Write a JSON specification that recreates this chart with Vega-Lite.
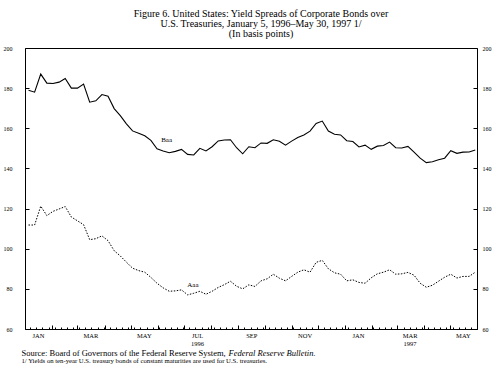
{
  "$schema": "https://vega.github.io/schema/vega-lite/v6.json",
  "width": 452,
  "height": 281,
  "autosize": "none",
  "padding": {"left": 25, "top": 48, "right": 23, "bottom": 37},
  "title": {
    "text": ["Figure 6. United States: Yield Spreads of Corporate Bonds over", "U.S. Treasuries, January 5, 1996–May 30, 1997 1/", "(In basis points)"],
    "font": "Liberation Serif",
    "fontSize": 10,
    "fontWeight": "normal",
    "lineHeight": 9.8,
    "anchor": "middle",
    "dx": 10,
    "offset": 6,
    "color": "#000"
  },
  "datasets": {
    "yields": [
      {"date": "1996-01-05", "Baa": 179, "Aaa": 111.8},
      {"date": "1996-01-12", "Baa": 178, "Aaa": 111.8},
      {"date": "1996-01-19", "Baa": 187, "Aaa": 121.2},
      {"date": "1996-01-26", "Baa": 182.5, "Aaa": 116.5},
      {"date": "1996-02-02", "Baa": 182.3, "Aaa": 118.6},
      {"date": "1996-02-09", "Baa": 183, "Aaa": 119.8},
      {"date": "1996-02-16", "Baa": 184.8, "Aaa": 121},
      {"date": "1996-02-23", "Baa": 180, "Aaa": 115.8},
      {"date": "1996-03-01", "Baa": 180, "Aaa": 113.9},
      {"date": "1996-03-08", "Baa": 182, "Aaa": 112},
      {"date": "1996-03-15", "Baa": 173, "Aaa": 104.5},
      {"date": "1996-03-22", "Baa": 173.7, "Aaa": 105},
      {"date": "1996-03-29", "Baa": 176.8, "Aaa": 106.4},
      {"date": "1996-04-05", "Baa": 176, "Aaa": 104},
      {"date": "1996-04-12", "Baa": 169.8, "Aaa": 99},
      {"date": "1996-04-19", "Baa": 166.3, "Aaa": 96.4},
      {"date": "1996-04-26", "Baa": 162.2, "Aaa": 93.3},
      {"date": "1996-05-03", "Baa": 158.7, "Aaa": 90.3},
      {"date": "1996-05-10", "Baa": 157.5, "Aaa": 89.1},
      {"date": "1996-05-17", "Baa": 156.3, "Aaa": 88.3},
      {"date": "1996-05-24", "Baa": 154, "Aaa": 85.7},
      {"date": "1996-05-31", "Baa": 149.8, "Aaa": 82.8},
      {"date": "1996-06-07", "Baa": 148.7, "Aaa": 80.5},
      {"date": "1996-06-14", "Baa": 147.8, "Aaa": 78.8},
      {"date": "1996-06-21", "Baa": 148.5, "Aaa": 79},
      {"date": "1996-06-28", "Baa": 149.5, "Aaa": 79.5},
      {"date": "1996-07-05", "Baa": 147, "Aaa": 77},
      {"date": "1996-07-12", "Baa": 146.7, "Aaa": 77.8},
      {"date": "1996-07-19", "Baa": 150, "Aaa": 78.8},
      {"date": "1996-07-26", "Baa": 148.7, "Aaa": 77.3},
      {"date": "1996-08-02", "Baa": 150.8, "Aaa": 78.8},
      {"date": "1996-08-09", "Baa": 153.7, "Aaa": 80.7},
      {"date": "1996-08-16", "Baa": 154.2, "Aaa": 82.1},
      {"date": "1996-08-23", "Baa": 154.3, "Aaa": 83.8},
      {"date": "1996-08-30", "Baa": 150.3, "Aaa": 81.3},
      {"date": "1996-09-06", "Baa": 147.3, "Aaa": 80},
      {"date": "1996-09-13", "Baa": 150.8, "Aaa": 82},
      {"date": "1996-09-20", "Baa": 150.3, "Aaa": 81.2},
      {"date": "1996-09-27", "Baa": 152.7, "Aaa": 84},
      {"date": "1996-10-04", "Baa": 152.5, "Aaa": 85},
      {"date": "1996-10-11", "Baa": 154.3, "Aaa": 87.3},
      {"date": "1996-10-18", "Baa": 153.5, "Aaa": 85.3},
      {"date": "1996-10-25", "Baa": 151.6, "Aaa": 84},
      {"date": "1996-11-01", "Baa": 153.6, "Aaa": 86.2},
      {"date": "1996-11-08", "Baa": 155.4, "Aaa": 88.3},
      {"date": "1996-11-15", "Baa": 156.7, "Aaa": 89.5},
      {"date": "1996-11-22", "Baa": 158.6, "Aaa": 88.3},
      {"date": "1996-11-29", "Baa": 162.4, "Aaa": 93.2},
      {"date": "1996-12-06", "Baa": 163.6, "Aaa": 94.2},
      {"date": "1996-12-13", "Baa": 158.6, "Aaa": 90},
      {"date": "1996-12-20", "Baa": 157, "Aaa": 88},
      {"date": "1996-12-27", "Baa": 156.7, "Aaa": 87.3},
      {"date": "1997-01-03", "Baa": 153.8, "Aaa": 84},
      {"date": "1997-01-10", "Baa": 153.4, "Aaa": 84.5},
      {"date": "1997-01-17", "Baa": 150.7, "Aaa": 83.2},
      {"date": "1997-01-24", "Baa": 151.6, "Aaa": 82.8},
      {"date": "1997-01-31", "Baa": 149.5, "Aaa": 85.5},
      {"date": "1997-02-07", "Baa": 151.1, "Aaa": 87.5},
      {"date": "1997-02-14", "Baa": 151.4, "Aaa": 88.3},
      {"date": "1997-02-21", "Baa": 153.1, "Aaa": 89.5},
      {"date": "1997-02-28", "Baa": 150.3, "Aaa": 87.3},
      {"date": "1997-03-07", "Baa": 150.2, "Aaa": 87.5},
      {"date": "1997-03-14", "Baa": 151, "Aaa": 88.2},
      {"date": "1997-03-21", "Baa": 148.1, "Aaa": 86.8},
      {"date": "1997-03-28", "Baa": 145.1, "Aaa": 82.8},
      {"date": "1997-04-04", "Baa": 142.9, "Aaa": 80.8},
      {"date": "1997-04-11", "Baa": 143.3, "Aaa": 81.8},
      {"date": "1997-04-18", "Baa": 144.3, "Aaa": 83.8},
      {"date": "1997-04-25", "Baa": 145.1, "Aaa": 85.8},
      {"date": "1997-05-02", "Baa": 148.8, "Aaa": 87.3},
      {"date": "1997-05-09", "Baa": 147.5, "Aaa": 85.4},
      {"date": "1997-05-16", "Baa": 148.1, "Aaa": 86.2},
      {"date": "1997-05-23", "Baa": 148.2, "Aaa": 86.2},
      {"date": "1997-05-30", "Baa": 149.2, "Aaa": 88.3}
    ],
    "labels": [
      {"date": "1996-06-11", "value": 154, "label": "Baa"},
      {"date": "1996-07-11", "value": 81.8, "label": "Aaa"}
    ]
  },
  "layer": [
    {
      "data": {"name": "yields"},
      "mark": {"type": "line", "color": "#000", "strokeWidth": 1.1, "interpolate": "linear"},
      "encoding": {
        "x": {
          "field": "date", "type": "temporal",
          "scale": {"type": "utc", "domain": [{"year": 1996, "month": 1, "date": 1, "utc": true}, {"year": 1997, "month": 6, "date": 1, "utc": true}]},
          "axis": {
            "orient": "bottom",
            "tickCount": {"interval": "month", "step": 1},
            "tickSize": -4,
            "tickColor": "#000",
            "domain": false,
            "grid": false,
            "labelExpr": "utcmonth(datum.value)%2==0 ? (utcmonth(datum.value)==6 && utcyear(datum.value)==1996 ? ['JUL','1996'] : (utcmonth(datum.value)==2 && utcyear(datum.value)==1997 ? ['MAR','1997'] : upper(utcFormat(datum.value,'%b')))) : ''",
            "labelOffset": 13,
            "labelPadding": 7,
            "labelFont": "Liberation Serif",
            "labelFontSize": 6.5,
            "labelColor": "#000",
            "labelLineHeight": 8,
            "labelOverlap": false,
            "labelFlush": false,
            "labelBound": false,
            "title": "Source: Board of Governors of the Federal Reserve System,",
            "titleFont": "Liberation Serif",
            "titleFontSize": 8.5,
            "titleFontWeight": "normal",
            "titleColor": "#000",
            "titleAnchor": "start",
            "titleAlign": "left",
            "titleBaseline": "alphabetic",
            "titleX": -4,
            "titleY": 26
          }
        },
        "y": {
          "field": "Baa", "type": "quantitative",
          "scale": {"domain": [60, 200], "nice": false, "zero": false},
          "axis": {
            "orient": "left",
            "values": [60, 80, 100, 120, 140, 160, 180, 200],
            "tickSize": -4,
            "tickColor": "#000",
            "domain": false,
            "grid": false,
            "labelFont": "Liberation Serif",
            "labelFontSize": 6,
            "labelColor": "#000",
            "labelPadding": 17,
            "title": null
          }
        }
      }
    },
    {
      "data": {"name": "yields"},
      "mark": {"type": "line", "color": "#000", "strokeWidth": 1, "strokeDash": [1.5, 1.5], "interpolate": "linear"},
      "encoding": {
        "x": {
          "field": "date", "type": "temporal",
          "axis": {
            "orient": "bottom",
            "tickCount": {"interval": "week", "step": 1},
            "tickSize": -2,
            "tickColor": "#000",
            "domain": false,
            "grid": false,
            "labels": false,
            "title": "1/ Yields on ten-year U.S. treasury bonds of constant maturities are used for U.S. treasuries.",
            "titleFont": "Liberation Serif",
            "titleFontSize": 6.7,
            "titleFontWeight": "normal",
            "titleColor": "#000",
            "titleAnchor": "start",
            "titleAlign": "left",
            "titleBaseline": "alphabetic",
            "titleX": -4,
            "titleY": 33
          }
        },
        "y": {
          "field": "Aaa", "type": "quantitative",
          "axis": {
            "orient": "right",
            "values": [60, 80, 100, 120, 140, 160, 180, 200],
            "tickSize": -4,
            "tickColor": "#000",
            "domain": false,
            "grid": false,
            "labelFont": "Liberation Serif",
            "labelFontSize": 6,
            "labelColor": "#000",
            "labelPadding": 9,
            "title": null
          }
        }
      }
    },
    {
      "data": {"name": "labels"},
      "mark": {"type": "text", "font": "Liberation Serif", "fontSize": 7, "color": "#000"},
      "encoding": {
        "x": {
          "field": "date", "type": "temporal",
          "axis": {
            "orient": "bottom",
            "ticks": false,
            "labels": false,
            "domain": false,
            "grid": false,
            "title": "Federal Reserve Bulletin.",
            "titleFont": "Liberation Serif",
            "titleFontSize": 8.5,
            "titleFontStyle": "italic",
            "titleFontWeight": "normal",
            "titleColor": "#000",
            "titleAnchor": "start",
            "titleAlign": "left",
            "titleBaseline": "alphabetic",
            "titleX": 203,
            "titleY": 26
          }
        },
        "y": {"field": "value", "type": "quantitative", "axis": null},
        "text": {"field": "label"}
      }
    }
  ],
  "resolve": {"axis": {"x": "independent", "y": "independent"}},
  "config": {
    "view": {"stroke": "#000", "strokeWidth": 1},
    "background": "#fff"
  }
}
